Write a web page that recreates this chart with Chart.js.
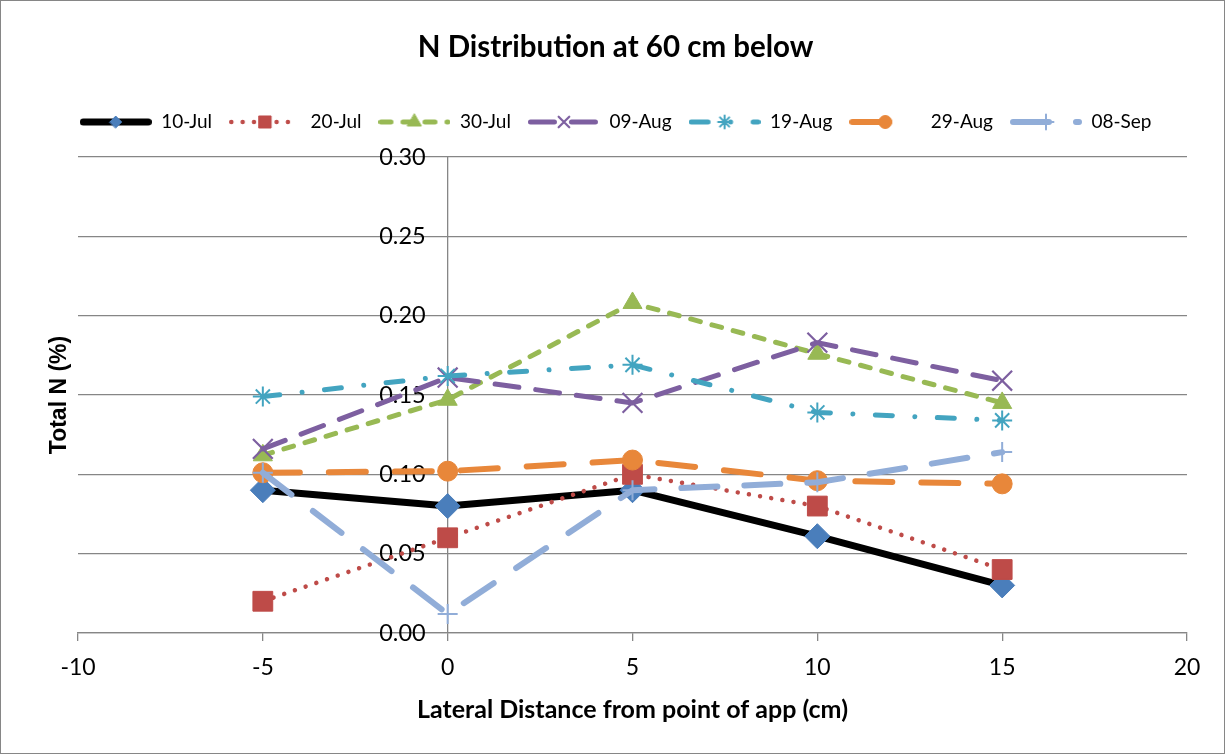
<!DOCTYPE html>
<html>
<head>
<meta charset="utf-8">
<script src="https://cdn.jsdelivr.net/npm/chart.js@4/dist/chart.umd.min.js"></script>
<style>
html,body{margin:0;padding:0;background:#fff;}
#wrap{width:1225px;height:754px;position:relative;}
</style>
</head>
<body>
<div id="wrap"><canvas id="c"></canvas></div>
<script>
// ---- data ----
const chartTitle = 'N Distribution at 60 cm below';
const xTitle = 'Lateral Distance from point of app (cm)';
const yTitle = 'Total N (%)';
const xValues = [-5, 0, 5, 10, 15];
const seriesNames = ['10-Jul', '20-Jul', '30-Jul', '09-Aug', '19-Aug', '29-Aug', '08-Sep'];
const jul10 = [0.090, 0.080, 0.090, 0.061, 0.030];
const jul20 = [0.020, 0.060, 0.100, 0.080, 0.040];
const jul30 = [0.112, 0.147, 0.208, 0.176, 0.145];
const aug09 = [0.116, 0.161, 0.145, 0.183, 0.159];
const aug19 = [0.149, 0.162, 0.169, 0.139, 0.134];
const aug29 = [0.101, 0.102, 0.109, 0.096, 0.094];
const sep08 = [0.101, 0.012, 0.090, 0.095, 0.114];
const xTicks = [-10, -5, 0, 5, 10, 15, 20];
const yTicks = [0, 0.05, 0.10, 0.15, 0.20, 0.25, 0.30];

// ---- styles ----
const seriesValues = [jul10, jul20, jul30, aug09, aug19, aug29, sep08];
const styles = [
  {line:'#000000', mark:'#4A7EBB', width:7,   dash:[],                  pt:'rectRot',  r:12.5, lr:6,   bw:1},
  {line:'#BE4B48', mark:'#BE4B48', width:4.5, dash:[0.01, 11.3],        pt:'rect',     r:14,   lr:8.5, bw:1},
  {line:'#98B954', mark:'#98B954', width:5,   dash:[10, 12],            pt:'triangle', r:11,   lr:8,   bw:1},
  {line:'#7D5FA0', mark:'#7D5FA0', width:5,   dash:[24, 17],            pt:'crossRot', r:14,   lr:7.5, bw:2.2},
  {line:'#43A4C0', mark:'#43A4C0', width:5,   dash:[17, 22.5, 0.01, 22.5], pt:'star',  r:10,   lr:6.5, bw:2},
  {line:'#E8873A', mark:'#E8873A', width:6,   dash:[37, 29],            pt:'circle',   r:10,   lr:6.5, bw:1},
  {line:'#91ADD8', mark:'#91ADD8', width:6,   dash:[36, 27],            pt:'cross',    r:10,   lr:7.5, bw:2}
];
const FONT = 'Lato';
const GRID = '#868686';
const SAMPLE_W = 72;

// legend samples (line + marker) drawn with Chart.js point helper
function makeSample(st) {
  const cv = document.createElement('canvas');
  cv.width = SAMPLE_W; cv.height = 26;
  const ctx = cv.getContext('2d');
  ctx.strokeStyle = st.line;
  ctx.lineWidth = st.width;
  ctx.lineCap = 'round';
  ctx.setLineDash(st.dash);
  ctx.beginPath();
  ctx.moveTo(st.width / 2, 13);
  ctx.lineTo(SAMPLE_W - st.width / 2, 13);
  ctx.stroke();
  ctx.setLineDash([]);
  ctx.fillStyle = st.mark;
  ctx.strokeStyle = st.mark;
  ctx.lineWidth = st.bw;
  if (Chart.helpers && Chart.helpers.drawPoint) {
    Chart.helpers.drawPoint(ctx, {pointStyle: st.pt, rotation: 0, radius: st.lr, borderWidth: st.bw}, SAMPLE_W / 2, 13);
  }
  return cv;
}
const samples = styles.map(makeSample);

const datasets = seriesNames.map((name, i) => {
  const st = styles[i];
  return {
    label: name,
    data: xValues.map((x, k) => ({x: x, y: seriesValues[i][k]})),
    xAxisID: 'x', yAxisID: 'y',
    borderColor: st.line,
    borderWidth: st.width,
    borderDash: st.dash,
    borderCapStyle: 'round',
    borderJoinStyle: 'round',
    backgroundColor: st.mark,
    pointStyle: st.pt,
    pointRadius: st.r,
    pointHoverRadius: st.r,
    pointBackgroundColor: st.mark,
    pointBorderColor: st.mark,
    pointBorderWidth: st.bw,
    tension: 0,
    fill: false,
    order: seriesNames.length - i
  };
});

const yLabelShift = {
  id: 'yLabelShift',
  beforeDraw(chart) {
    const s = chart.scales.y;
    const ax = chart.scales.x.getPixelForValue(0);
    s.getLabelItems(chart.chartArea).forEach(it => {
      it.options.translation[0] = ax - 22;
      it.options.textAlign = 'right';
    });
  }
};
const frame = {
  id: 'frame',
  beforeDraw(c) {
    const ctx = c.ctx; ctx.save(); ctx.fillStyle = '#fff'; ctx.fillRect(0, 0, c.width, c.height); ctx.restore();
  },
  afterDraw(c) {
    const ctx = c.ctx; ctx.save(); ctx.strokeStyle = GRID; ctx.lineWidth = 1;
    ctx.strokeRect(0.5, 0.5, c.width - 1, c.height - 1); ctx.restore();
  }
};

new Chart(document.getElementById('c'), {
  type: 'line',
  data: {datasets: datasets},
  plugins: [yLabelShift, frame],
  options: {
    responsive: true,
    maintainAspectRatio: false,
    animation: false,
    events: [],
    layout: {padding: {top: 8, left: 44.2, right: 38, bottom: 29.4}},
    plugins: {
      tooltip: {enabled: false},
      title: {
        display: true, text: chartTitle, color: '#000',
        font: {family: FONT, size: 29.5, weight: 'bold'},
        padding: {top: 21.3, bottom: 30.8}
      },
      legend: {
        display: true, position: 'top',
        labels: {
          usePointStyle: true, pointStyleWidth: SAMPLE_W, padding: 17,
          color: '#000', font: {family: FONT, size: 19},
          generateLabels(chart) {
            return chart.data.datasets.map((ds, i) => ({
              text: ds.label, pointStyle: samples[i], datasetIndex: i, hidden: false,
              lineWidth: 0, strokeStyle: 'rgba(0,0,0,0)', fillStyle: 'rgba(0,0,0,0)', fontColor: '#000'
            }));
          }
        }
      }
    },
    scales: {
      x: {
        type: 'linear', position: 'bottom', min: -10, max: 20,
        afterBuildTicks(s) { s.ticks = xTicks.map(v => ({value: v})); },
        ticks: {font: {family: FONT, size: 23}, color: '#000', padding: 13, callback: v => String(v)},
        grid: {display: true, drawOnChartArea: false, drawTicks: true, tickLength: 8, color: GRID, lineWidth: 1.3},
        border: {display: true, color: GRID, width: 1.3},
        title: {display: true, text: xTitle, color: '#000', font: {family: FONT, size: 25, weight: 'bold'}, padding: {top: 0, bottom: 0}}
      },
      x2: {
        type: 'linear', position: 'top', min: -10, max: 20,
        ticks: {display: false}, grid: {display: false, drawTicks: false}, border: {display: false},
        afterFit(s) { s.height = 15.5; }
      },
      y: {
        type: 'linear', position: {x: 0}, min: 0, max: 0.3,
        afterBuildTicks(s) { s.ticks = yTicks.map(v => ({value: v})); },
        ticks: {font: {family: FONT, size: 23.5}, color: '#000', callback: v => Number(v).toFixed(2)},
        grid: {color: GRID, lineWidth: 1.3, drawTicks: false},
        border: {display: true, color: GRID, width: 1.3}
      },
      y2: {
        type: 'linear', position: 'left', min: 0, max: 0.3,
        ticks: {display: false}, grid: {display: false, drawTicks: false}, border: {display: false},
        title: {display: true, text: yTitle, color: '#000', font: {family: 'Liberation Sans', size: 23, weight: 'bold'}, padding: {top: 2, bottom: 4.2}}
      }
    }
  }
});
</script>
</body>
</html>
